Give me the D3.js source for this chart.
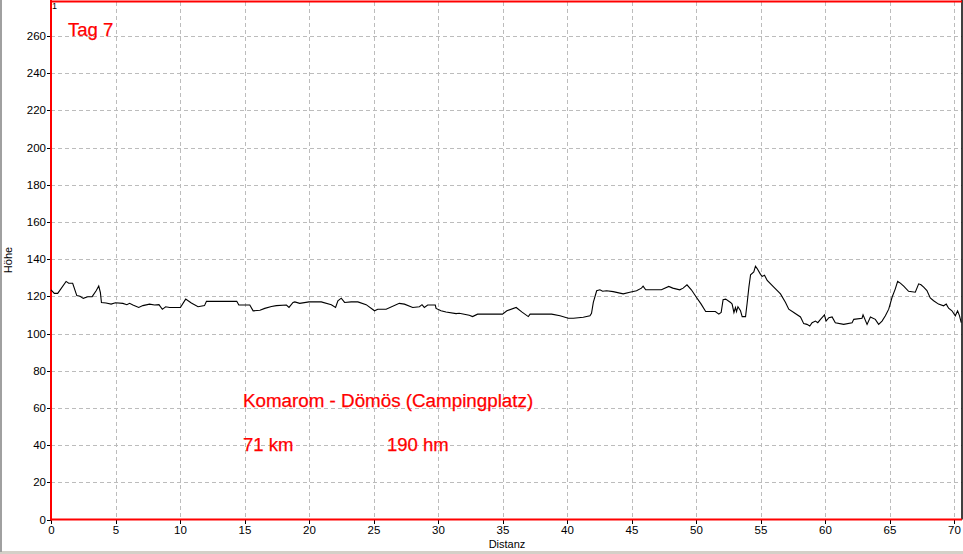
<!DOCTYPE html>
<html>
<head>
<meta charset="utf-8">
<script src="https://cdn.jsdelivr.net/npm/d3@7"></script>
<style>
  html, body { margin: 0; padding: 0; background: #fff; }
  svg { display: block; }
  text { font-family: "Liberation Sans", Arial, sans-serif; }
</style>
</head>
<body>
<script>
const distance = [0,0.26,0.52,1.17,1.37,1.68,2.0,2.25,2.5,2.85,3.19,3.5,3.7,3.83,3.91,4.27,4.66,5.0,5.57,5.88,6.09,6.35,6.8,7.12,7.64,8.03,8.37,8.63,8.89,9.2,10.03,10.44,10.88,11.4,11.9,12.05,14.4,14.56,15.41,15.67,16.2,16.57,17.09,17.47,18.25,18.45,18.76,18.9,19.28,20,20.95,21.73,22.06,22.24,22.5,22.76,23.27,23.79,24.43,25.08,25.33,25.98,27.0,27.4,28.04,28.56,28.76,28.94,29.2,29.79,29.85,30.23,30.62,31.4,31.65,32.42,32.68,33.07,35,35.34,36.06,36.49,37.0,37.14,38.81,39.46,40.1,40.5,41.26,41.78,41.9,42.04,42.3,42.55,42.76,43.07,43.58,44.36,44.87,45.39,45.77,45.9,46.1,47.32,47.89,48.2,48.74,49.0,49.3,49.64,50.03,50.4,50.75,51.5,51.77,51.95,52.1,52.3,52.68,52.8,52.94,53.06,53.14,53.25,53.45,53.58,53.84,53.97,54.1,54.23,54.48,54.61,54.74,55.0,55.13,55.31,55.52,56.03,56.55,56.94,57.19,57.58,58.1,58.35,58.6,58.82,59.0,59.26,59.44,59.65,59.96,60.08,60.3,60.55,60.8,61.45,62.1,62.23,62.87,62.95,63.26,63.52,63.9,64.16,64.42,64.68,64.94,65.2,65.45,65.63,65.84,66.1,66.48,67.0,67.26,67.44,67.65,67.9,68.16,68.42,68.8,69.19,69.4,69.58,69.84,70.1,70.28,70.43,70.56];
const elevation = [123.5,121.6,121.6,128,127,127,120.4,120,118.9,119.8,119.8,123,125.5,122,116.7,116.4,115.8,116.5,116.2,115.5,116.2,115.3,114,115,115.8,115.3,115.5,113,114.4,114,114,118.5,116.4,114.4,115,117.3,117.3,115.3,115.3,112.2,112.5,113.5,114.5,115,115.3,114,116.7,117,116.2,117,117,115.5,114,117.6,119,116.7,117,117,115.5,112.2,113,113,116.2,115.8,114,114.4,115.5,114,115.3,115.3,113.5,112.2,111.6,110.7,110.9,109.8,109.1,110.4,110.4,112.2,114,111.6,109.1,110.4,110.4,109.5,108.2,108.2,108.7,109.5,110.9,116.7,123,123.5,122.7,123,122.5,121.3,122.2,123,124.4,125.5,123.5,123.5,125.3,124.4,123.5,124.4,126.2,123.5,119.5,115.8,111.8,111.8,110.4,111.3,118.2,118.5,116.7,115.8,111.3,114,111.8,114.4,112.2,109.1,109.1,116.7,124.9,131.6,133.1,136.2,134.9,131.8,130.7,131.3,128.5,124.9,121.3,116.7,113.1,111.3,108.9,105.3,104.9,104,105.8,106.7,105.8,107.6,110,106.7,108.5,108.9,105.8,104.9,105.8,107.6,108.2,110,104.9,108.9,107.6,104.9,106.7,109.5,113.1,119.5,124,128,127.1,125.5,122.7,122.2,126.7,126.2,124.9,123.1,119.1,117.6,115.8,114.9,115.8,113.6,112.2,109.5,112.2,109.5,105.8];
const xTicks = [0,5,10,15,20,25,30,35,40,45,50,55,60,65,70];
const yTicks = [0,20,40,60,80,100,120,140,160,180,200,220,240,260];
const xLabel = "Distanz";
const yLabel = "Höhe";
const title = "Tag 7";
const routeText = "Komarom - Dömös (Campingplatz)";
const distText = "71 km";
const climbText = "190 hm";

const W = 963, H = 554;
const svg = d3.select("body").append("svg").attr("width", W).attr("height", H);

// window frame
svg.append("rect").attr("x", 0).attr("y", 551).attr("width", W).attr("height", 3).attr("fill", "#d4d0c8");
svg.append("rect").attr("x", 0).attr("y", 0).attr("width", 2).attr("height", 552).attr("fill", "#a0a0a0");

const L = 51, R = 962, T = 1.5, B = 519.5;
const x = d3.scaleLinear().domain([0, 70.62]).range([L, R]);
const y = d3.scaleLinear().domain([0, 278.5]).range([B, T]);

// grid
const grid = svg.append("g").attr("stroke", "#bcbcbc").attr("stroke-dasharray", "4,3").attr("shape-rendering", "crispEdges");
grid.selectAll(".gx").data(xTicks.filter(d => d > 0)).join("line")
  .attr("x1", d => Math.round(x(d)) + 0.5).attr("x2", d => Math.round(x(d)) + 0.5)
  .attr("y1", T).attr("y2", B);
grid.selectAll(".gy").data(yTicks.filter(d => d > 0)).join("line")
  .attr("y1", d => Math.round(y(d)) + 0.5).attr("y2", d => Math.round(y(d)) + 0.5)
  .attr("x1", L).attr("x2", R);

// axes
const xAxis = d3.axisBottom(x).tickValues(xTicks).tickSize(4).tickPadding(2);
const yAxis = d3.axisLeft(y).tickValues(yTicks).tickSize(4).tickPadding(1);
const gx = svg.append("g").attr("transform", `translate(0,${B})`).call(xAxis);
const gy = svg.append("g").attr("transform", `translate(${L},0)`).call(yAxis);
[gx, gy].forEach(g => {
  g.select(".domain").remove();
  g.selectAll(".tick line").attr("stroke", "#000").attr("shape-rendering", "crispEdges");
  g.selectAll(".tick text").attr("fill", "#000").attr("font-size", 11.5).attr("font-family", "'Liberation Sans', Arial, sans-serif");
});

// frame lines
svg.append("line").attr("x1", R).attr("x2", R).attr("y1", 0).attr("y2", B).attr("stroke", "#000").attr("stroke-width", 1.5);
svg.append("line").attr("x1", L).attr("x2", L).attr("y1", 0).attr("y2", B + 1).attr("stroke", "#ff0000").attr("stroke-width", 2);
svg.append("line").attr("x1", L).attr("x2", R).attr("y1", B).attr("y2", B).attr("stroke", "#ff0000").attr("stroke-width", 2);
svg.append("line").attr("x1", L).attr("x2", R).attr("y1", T).attr("y2", T).attr("stroke", "#ff0000").attr("stroke-width", 2);

// profile line
const pts = distance.map((d, i) => [d, elevation[i]]);
svg.append("path").datum(pts)
  .attr("fill", "none").attr("stroke", "#000").attr("stroke-width", 1.1)
  .attr("d", d3.line().x(d => x(d[0])).y(d => y(d[1])));

// labels
svg.append("text").attr("x", 507).attr("y", 548).attr("text-anchor", "middle").attr("font-size", 11).text(xLabel);
svg.append("text").attr("transform", "translate(12,260) rotate(-90)").attr("text-anchor", "middle").attr("font-size", 11).text(yLabel);
svg.append("text").attr("x", 52).attr("y", 9).attr("font-size", 9).attr("fill", "#000").text("1");

const red = svg.append("g").attr("fill", "#ff0000").attr("stroke", "#ff0000").attr("stroke-width", 0.25);
red.append("text").attr("x", 68).attr("y", 36).attr("font-size", 18.5).text(title);
red.append("text").attr("x", 243).attr("y", 407).attr("font-size", 18.8).text(routeText);
red.append("text").attr("x", 243).attr("y", 451).attr("font-size", 18.5).text(distText);
red.append("text").attr("x", 387).attr("y", 451).attr("font-size", 18.5).text(climbText);
</script>
</body>
</html>
